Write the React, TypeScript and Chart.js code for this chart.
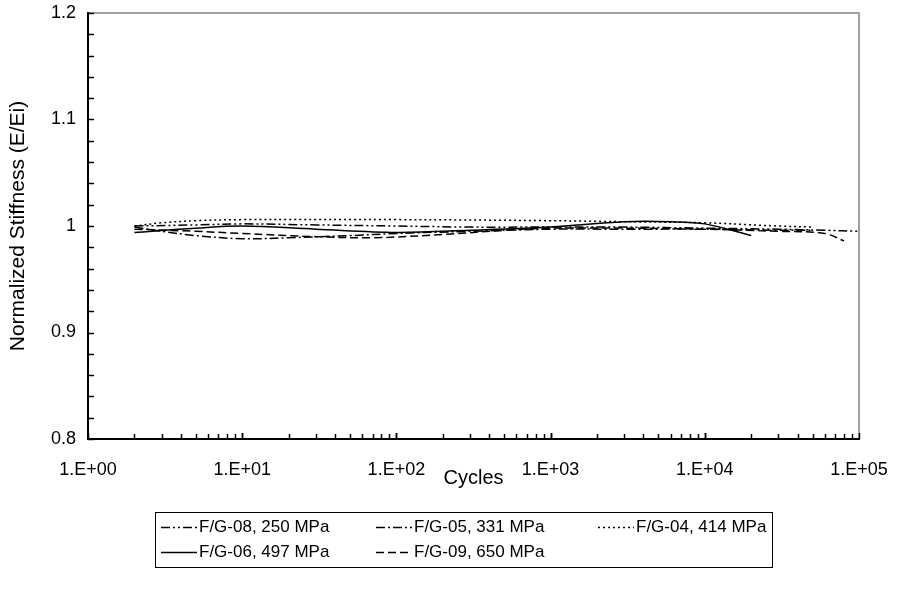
import React, { useEffect, useRef } from 'react';
import { Chart, registerables } from 'chart.js';

Chart.register(...registerables);

// ---------- data ----------
const seriesNames = [
  'F/G-08, 250 MPa',
  'F/G-05, 331 MPa',
  'F/G-04, 414 MPa',
  'F/G-06, 497 MPa',
  'F/G-09, 650 MPa',
];

const cyclesFG08 = [2, 5, 10, 30, 100, 300, 1000, 3000, 10000, 30000, 60000, 100000];
const stiffFG08 = [1.0, 1.001, 1.002, 1.001, 1.0, 0.999, 0.999, 0.999, 0.998, 0.997, 0.996, 0.995];

const cyclesFG05 = [2, 3, 5, 10, 20, 50, 100, 300, 1000, 3000, 10000, 30000, 50000];
const stiffFG05 = [0.999, 0.995, 0.991, 0.988, 0.989, 0.991, 0.993, 0.995, 0.997, 0.997, 0.997, 0.996, 0.996];

const cyclesFG04 = [2, 3, 5, 10, 100, 1000, 3000, 10000, 30000, 50000];
const stiffFG04 = [1.0, 1.003, 1.005, 1.006, 1.006, 1.005, 1.004, 1.003, 1.0, 0.999];

const cyclesFG06 = [2, 5, 10, 30, 100, 300, 1000, 3000, 6000, 10000, 20000];
const stiffFG06 = [0.994, 0.998, 1.0, 0.997, 0.994, 0.996, 0.999, 1.004, 1.004, 1.002, 0.991];

const cyclesFG09 = [2, 5, 10, 30, 70, 200, 500, 1000, 3000, 10000, 30000, 60000, 80000];
const stiffFG09 = [0.997, 0.995, 0.993, 0.99, 0.989, 0.992, 0.996, 0.998, 0.998, 0.997, 0.995, 0.993, 0.986];

const seriesCycles = [cyclesFG08, cyclesFG05, cyclesFG04, cyclesFG06, cyclesFG09];
const seriesStiff = [stiffFG08, stiffFG05, stiffFG04, stiffFG06, stiffFG09];
const seriesDash = [
  [9, 3, 2, 3, 2, 3],
  [9, 3, 2, 3],
  [2, 3],
  [],
  [8, 4],
];

const xTickValues = [1, 10, 100, 1000, 10000, 100000];
const xTickLabels = ['1.E+00', '1.E+01', '1.E+02', '1.E+03', '1.E+04', '1.E+05'];
const yTickValues = [0.8, 0.9, 1.0, 1.1, 1.2];
const yTickLabels = ['0.8', '0.9', '1', '1.1', '1.2'];

const xTitle = 'Cycles';
const yTitle = 'Normalized Stiffness (E/Ei)';

const FONT = "'Liberation Sans', Arial, sans-serif";

// ---------- plugins ----------
const framePlugin = {
  id: 'frame',
  afterDatasetsDraw(chart: any) {
    const { ctx, chartArea: a, scales } = chart;
    const xs = scales.x;
    const ys = scales.y;
    ctx.save();
    ctx.setLineDash([]);
    ctx.strokeStyle = '#a0a0a0';
    ctx.lineWidth = 2;
    ctx.beginPath();
    ctx.moveTo(a.left, a.top);
    ctx.lineTo(a.right, a.top);
    ctx.lineTo(a.right, a.bottom);
    ctx.stroke();

    ctx.strokeStyle = '#000';
    ctx.lineWidth = 1.5;
    for (let i = 0; i <= 20; i++) {
      const v = 0.8 + i * 0.02;
      const py = Math.round(ys.getPixelForValue(v)) + 0.5;
      ctx.beginPath();
      ctx.moveTo(a.left, py);
      ctx.lineTo(a.left + 6, py);
      ctx.stroke();
    }
    for (let e = 0; e < 5; e++) {
      for (let k = 1; k <= 10; k++) {
        const v = k * Math.pow(10, e);
        const px = Math.round(xs.getPixelForValue(v)) + 0.5;
        const len = k === 1 || k === 10 ? 6 : 5;
        ctx.beginPath();
        ctx.moveTo(px, a.bottom);
        ctx.lineTo(px, a.bottom - len);
        ctx.stroke();
      }
    }
    ctx.lineWidth = 2;
    ctx.beginPath();
    ctx.moveTo(a.left, a.top - 1);
    ctx.lineTo(a.left, a.bottom);
    ctx.lineTo(a.right + 1, a.bottom);
    ctx.stroke();
    ctx.restore();
  },
};

const legendPlugin = {
  id: 'boxLegend',
  afterDraw(chart: any) {
    const { ctx } = chart;
    const boxL = 155, boxT = 512, boxR = 772, boxB = 567;
    const rowY = [527, 552];
    const colText = [199, 414, 636];
    const sampleLen = 36;
    ctx.save();
    ctx.strokeStyle = '#000';
    ctx.lineWidth = 1;
    ctx.setLineDash([]);
    ctx.strokeRect(boxL + 0.5, boxT + 0.5, boxR - boxL, boxB - boxT);
    ctx.font = `17px ${FONT}`;
    ctx.fillStyle = '#000';
    ctx.textBaseline = 'middle';
    ctx.textAlign = 'left';
    chart.data.datasets.forEach((ds: any, i: number) => {
      const row = Math.floor(i / 3);
      const col = i % 3;
      const tx = colText[col];
      const y = rowY[row] + 0.5;
      ctx.setLineDash(ds.borderDash || []);
      ctx.lineWidth = 1.5;
      ctx.beginPath();
      ctx.moveTo(tx - 2 - sampleLen, y);
      ctx.lineTo(tx - 2, y);
      ctx.stroke();
      ctx.setLineDash([]);
      ctx.fillText(ds.label, tx, rowY[row]);
    });
    ctx.restore();
  },
};

export default function App() {
  const ref = useRef<HTMLCanvasElement | null>(null);

  useEffect(() => {
    if (!ref.current) return;
    const datasets = seriesNames.map((name, i) => ({
      label: name,
      data: seriesCycles[i].map((c, j) => ({ x: c, y: seriesStiff[i][j] })),
      borderColor: '#000',
      backgroundColor: '#000',
      borderWidth: 1.5,
      borderDash: seriesDash[i],
      pointRadius: 0,
      fill: false,
      tension: 0.35,
    }));

    const chart = new Chart(ref.current, {
      type: 'line',
      data: { datasets },
      options: {
        animation: false,
        responsive: false,
        devicePixelRatio: 1,
        layout: { padding: { left: 0, top: 13, right: 40, bottom: 106 } },
        plugins: {
          legend: { display: false },
          tooltip: { enabled: false },
        },
        scales: {
          x: {
            type: 'logarithmic',
            min: 1,
            max: 100000,
            afterBuildTicks: (scale: any) => {
              scale.ticks = xTickValues.map((v) => ({ value: v }));
            },
            afterFit: (scale: any) => {
              scale.height = 53;
              scale.paddingLeft = 0;
              scale.paddingRight = 0;
            },
            grid: { display: false, drawTicks: false },
            border: { display: false },
            ticks: {
              autoSkip: false,
              maxRotation: 0,
              padding: 20,
              color: '#000',
              font: { family: FONT, size: 18 },
              callback: (_v: any, idx: number) => xTickLabels[idx],
            },
            title: {
              display: true,
              text: xTitle,
              color: '#000',
              font: { family: FONT, size: 20 },
              padding: { top: 2, bottom: 2 },
            },
          },
          y: {
            type: 'linear',
            min: 0.8,
            max: 1.2,
            afterBuildTicks: (scale: any) => {
              scale.ticks = yTickValues.map((v) => ({ value: v }));
            },
            afterFit: (scale: any) => {
              scale.width = 88;
              scale.paddingTop = 0;
              scale.paddingBottom = 0;
            },
            grid: { display: false, drawTicks: false },
            border: { display: false },
            ticks: {
              padding: 12,
              color: '#000',
              font: { family: FONT, size: 18 },
              callback: (_v: any, idx: number) => yTickLabels[idx],
            },
            title: {
              display: true,
              text: yTitle,
              color: '#000',
              font: { family: FONT, size: 21 },
              padding: { top: 6, bottom: 0 },
            },
          },
        },
      },
      plugins: [framePlugin, legendPlugin],
    });
    return () => chart.destroy();
  }, []);

  return (
    <div style={{ position: 'fixed', left: 0, top: 0, width: 899, height: 598, background: '#fff' }}>
      <canvas ref={ref} width={899} height={598} />
    </div>
  );
}
